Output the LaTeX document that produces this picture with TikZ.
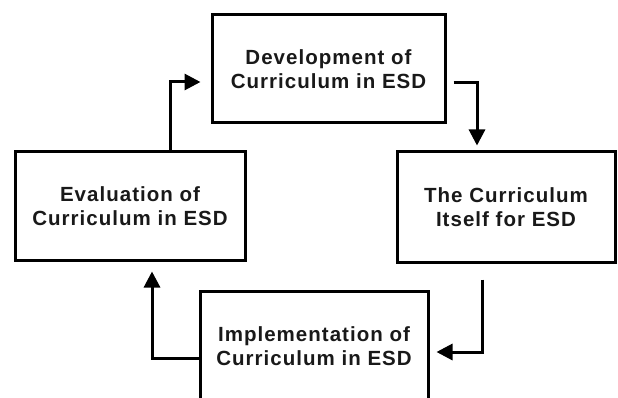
\documentclass[tikz,border=0pt]{standalone}
\usepackage{fontspec}
\setmainfont{Liberation Sans}[LetterSpace=5]
\usetikzlibrary{arrows.meta}
\begin{document}
\begin{tikzpicture}[x=1pt,y=-1pt,
  stage/.style={draw=black,line width=3pt,fill=white,align=center,
    font=\fontsize{20.5}{24}\selectfont\bfseries,text=black!90,
    inner sep=0pt},
  flow/.style={draw=black,line width=3pt,
    -{Triangle[length=16pt,width=16pt]}}]
  \useasboundingbox (0,0) rectangle (618,398);
  \clip (0,0) rectangle (618,398);
  % the four stages of the cycle
  \node[stage,minimum width=233pt,minimum height=108pt] (dev) at (328.5,69)
    {Development of\\Curriculum in ESD};
  \node[stage,minimum width=218pt,minimum height=110pt] (cur) at (506,207)
    {The Curriculum\\Itself for ESD};
  \node[stage,minimum width=228pt,minimum height=110pt] (imp) at (314,346)
    {Implementation of\\Curriculum in ESD};
  \node[stage,minimum width=230pt,minimum height=108pt] (eva) at (130,206)
    {Evaluation of\\Curriculum in ESD};
  % elbow connectors running clockwise
  \draw[flow] ([xshift=7pt,yshift=-14pt]dev.east) -| ([xshift=-29pt,yshift=5pt]cur.north);
  \draw[flow] ([xshift=-24pt,yshift=-16pt]cur.south) |- ([xshift=7pt,yshift=-6pt]imp.east);
  \draw[flow] ([yshift=-12pt]imp.west) -| ([xshift=22pt,yshift=-10pt]eva.south);
  \draw[flow] ([xshift=40pt]eva.north) |- ([xshift=-10pt,yshift=-13pt]dev.west);
\end{tikzpicture}
\end{document}
